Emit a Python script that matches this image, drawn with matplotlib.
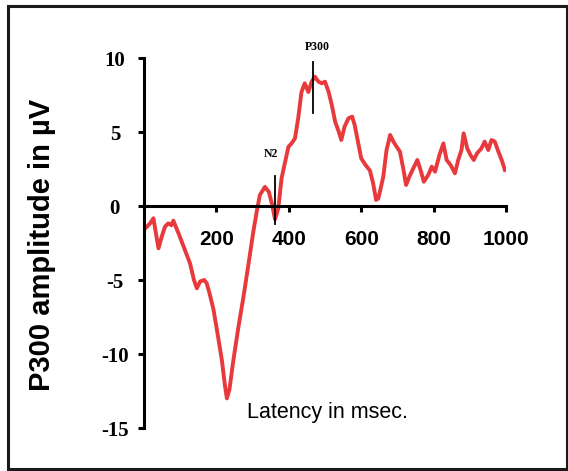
import matplotlib
matplotlib.use("Agg")
import matplotlib.pyplot as plt
from matplotlib.patches import Rectangle

# averaged ERP trace (latency in ms, amplitude in microvolts)
latency_ms = [0, 8, 17, 26, 33, 40, 49, 58, 67, 76, 81, 88, 99, 113, 127, 138, 146,
              155, 166, 173, 181, 192, 203, 215, 224, 229, 236, 247, 261, 275, 289,
              302, 312, 320, 334, 345, 354, 362, 371, 380, 390, 399, 408, 417, 426,
              435, 444, 454, 463, 472, 482, 491, 500, 510, 519, 528, 538, 545, 554,
              565, 575, 582, 591, 600, 612, 624, 633, 641, 647, 652, 661, 670, 680,
              689, 698, 707, 716, 724, 733, 744, 755, 764, 773, 785, 795, 804, 816,
              827, 836, 847, 859, 868, 877, 883, 893, 902, 911, 920, 932, 941, 951,
              960, 969, 979, 988, 997]
amplitude_uv = [-1.6, -1.4, -1.17, -0.83, -1.85, -2.86, -2.07, -1.4, -1.17, -1.3, -0.99,
                -1.4, -2.07, -2.97, -3.87, -5.0, -5.56, -5.1, -5.0, -5.2, -5.9, -7.0,
                -8.6, -10.4, -12.2, -13.0, -12.4, -10.4, -8.15, -6.1, -3.87, -1.73,
                -0.3, 0.74, 1.29, 0.95, 0.07, -0.9, -0.16, 1.87, 3.0, 4.0, 4.24, 4.57,
                5.93, 7.7, 8.29, 7.7, 8.4, 8.74, 8.4, 8.29, 8.4, 7.7, 6.8, 5.7, 5.02,
                4.46, 5.36, 5.93, 6.04, 5.47, 4.35, 3.22, 2.77, 2.4, 1.53, 0.41, 0.5,
                1.0, 1.98, 3.78, 4.8, 4.35, 4.0, 3.67, 2.55, 1.42, 1.98, 2.55, 3.11,
                2.43, 1.64, 2.09, 2.66, 2.32, 3.44, 4.23, 3.11, 2.77, 2.21, 3.11, 3.78,
                4.91, 3.89, 3.44, 3.11, 3.56, 3.89, 4.35, 3.78, 4.46, 4.35, 3.67, 3.11,
                2.43]

# component markers: (name, latency, bottom, top)
markers = [("N2", 362, -1.2, 2.0), ("P300", 466, 6.3, 9.7)]

x_ticks = [200, 400, 600, 800, 1000]
y_ticks = [-15, -10, -5, 0, 5, 10]

sans = ["Liberation Sans", "DejaVu Sans"]
serif = ["Liberation Serif", "DejaVu Serif"]

fig = plt.figure(figsize=(5.68, 4.71), dpi=100)
ax = fig.add_axes([144 / 568, 43 / 471, 362 / 568, 370 / 471])

ax.plot(latency_ms, amplitude_uv, color="#e8393c", lw=2.8, solid_joinstyle="round")

for name, x, lo, hi in markers:
    ax.plot([x, x], [lo, hi], color="black", lw=1.3, clip_on=False)

ax.text(351, 3.5, "N2", family=serif, weight="bold", fontsize=8.5,
        ha="center", va="center")
ax.text(480, 10.75, "P300", family=serif, weight="bold", fontsize=8.5,
        ha="center", va="center", clip_on=False)

ax.set_xlim(0, 1000)
ax.set_ylim(-15, 10)
ax.spines["top"].set_visible(False)
ax.spines["right"].set_visible(False)
ax.spines["bottom"].set_position(("data", 0))
ax.spines["left"].set_linewidth(2.2)
ax.spines["bottom"].set_linewidth(2.2)

ax.set_xticks(x_ticks)
ax.set_xticklabels([str(t) for t in x_ticks], family=sans, weight="bold", fontsize=15)
ax.set_yticks(y_ticks)
ax.set_yticklabels([str(t) for t in y_ticks], family=serif, weight="bold", fontsize=15)
for lab in ax.get_yticklabels():
    lab.set_ha("center")
ax.tick_params(axis="x", direction="out", length=4, width=2.2, pad=13)
ax.tick_params(axis="y", direction="out", length=4, width=2.2, pad=17)

ax.text(285, -14.3, "Latency in msec.", family=sans, fontsize=15.5,
        ha="left", va="baseline")
fig.text(42 / 568, 1 - 245 / 471, "P300 amplitude in µV", family=sans,
         weight="bold", fontsize=21, rotation=90, ha="center", va="center")

# frame around the whole figure
fig.patches.append(Rectangle((7.5 / 568, 2 / 471), 559 / 568, 463.5 / 471,
                             transform=fig.transFigure, fill=False,
                             edgecolor="#1a1a1a", lw=2.2))

fig.savefig("out.png", dpi=100)
